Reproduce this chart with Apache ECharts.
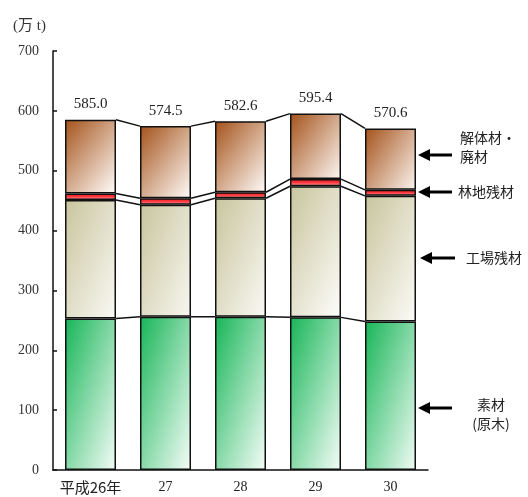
<!DOCTYPE html>
<html>
<head>
<meta charset="utf-8">
<script src="https://cdn.jsdelivr.net/npm/echarts@6/dist/echarts.min.js"></script>
<style>
  html, body { margin: 0; padding: 0; background: #fff; }
  #chart { width: 528px; height: 497px; }
</style>
</head>
<body>
<div id="chart"></div>
<script>
// 木材チップ原材料の内訳（万t）
const years = ['平成26年', '27', '28', '29', '30'];
const sozai = [253, 256, 256, 255, 248];          // 素材（原木）
const kojoZanzai = [198, 187, 198, 219, 210];     // 工場残材
const rinchiZanzai = [11, 11, 10, 12, 10];        // 林地残材
const kaitaiHaizai = [123.0, 120.5, 118.6, 109.4, 102.6]; // 解体材・廃材
const yTicks = [0, 100, 200, 300, 400, 500, 600, 700];

const layers = [sozai, kojoZanzai, rinchiZanzai, kaitaiHaizai];

// 積み上げの境界値（各層の上端）
const boundaries = [];
let running = years.map(() => 0);
layers.forEach(layer => {
  running = running.map((v, i) => v + layer[i]);
  boundaries.push(running.slice());
});
const totals = boundaries[boundaries.length - 1];

const BAR_RATIO = 0.68;
const numFont = "'Liberation Serif', 'DejaVu Serif', serif";
const jpFont = "'Noto Sans CJK JP', sans-serif";

// 左上から右下へ淡くなる斜めグラデーション
function grad(x2, y2, c0, c1) {
  return new echarts.graphic.LinearGradient(0, 0, x2, y2, [
    { offset: 0, color: c0 },
    { offset: 1, color: c1 }
  ]);
}

const edge = { borderColor: '#111', borderWidth: 1.5 };

const barSeries = [
  { name: '素材', data: sozai,
    itemStyle: Object.assign({ color: grad(1.8, 0.2, '#17b557', '#f6fdf9') }, edge) },
  { name: '工場残材', data: kojoZanzai,
    itemStyle: Object.assign({ color: grad(1.7, 0.3, '#c8c59d', '#fbfaf6') }, edge) },
  { name: '林地残材', data: rinchiZanzai,
    itemStyle: Object.assign({ color: new echarts.graphic.LinearGradient(0, 0, 0, 1, [
      { offset: 0, color: '#e8161e' },
      { offset: 0.5, color: '#ff3a40' },
      { offset: 1, color: '#ffb3b3' }
    ]) }, edge) },
  { name: '解体材・廃材', data: kaitaiHaizai,
    itemStyle: Object.assign({ color: grad(1.3, 0.7, '#a4521a', '#fffbf8') }, edge),
    label: {
      show: true, position: 'top', distance: 8,
      fontFamily: numFont, fontSize: 15, color: '#222',
      formatter: p => totals[p.dataIndex].toFixed(1)
    } }
].map(s => Object.assign({
  type: 'bar', stack: 'total', barWidth: (BAR_RATIO * 100) + '%',
  emphasis: { disabled: true }, z: 3
}, s));

// 隣り合う棒の境界を結ぶ線
const connectorSeries = boundaries.map((b, k) => ({
  type: 'custom',
  name: 'conn' + k,
  silent: true,
  z: 2,
  data: b.slice(0, -1).map((v, i) => [i, v, b[i + 1]]),
  renderItem: (params, api) => {
    const i = api.value(0);
    const p1 = api.coord([i, api.value(1)]);
    const p2 = api.coord([i + 1, api.value(2)]);
    const hw = api.size([1, 0])[0] * BAR_RATIO / 2;
    return {
      type: 'line',
      shape: { x1: p1[0] + hw, y1: p1[1], x2: p2[0] - hw, y2: p2[1] },
      style: { stroke: '#111', lineWidth: 1.5 }
    };
  }
}));

// 右側の説明用矢印
function arrow(xTip, y, len) {
  return [
    { type: 'polygon', shape: { points: [[xTip, y], [xTip + 12, y - 6], [xTip + 12, y + 6]] },
      style: { fill: '#000' } },
    { type: 'line', shape: { x1: xTip + 10, y1: y, x2: xTip + len, y2: y },
      style: { stroke: '#000', lineWidth: 3 } }
  ];
}
function label(x, y, text, align) {
  return { type: 'text', x: x, y: y,
    style: { text: text, font: "14px " + jpFont, fill: '#222',
      align: align || 'left', verticalAlign: 'middle', lineHeight: 19 } };
}

const chart = echarts.init(document.getElementById('chart'), null, { renderer: 'canvas' });
chart.setOption({
  animation: false,
  backgroundColor: '#fff',
  grid: { left: 53, right: 100, top: 51, bottom: 27 },
  xAxis: {
    type: 'category', data: years,
    axisLine: { lineStyle: { color: '#111', width: 1.5 } },
    axisTick: { show: false },
    axisLabel: {
      interval: 0,
      margin: 10,
      fontSize: 14, color: '#222',
      fontFamily: numFont,
      formatter: v => v.indexOf('平成') === 0 ? '{jp|' + v + '}' : v,
      rich: { jp: { fontFamily: jpFont, fontSize: 15, color: '#222' } }
    }
  },
  yAxis: {
    type: 'value', min: yTicks[0], max: yTicks[yTicks.length - 1], interval: 100,
    axisLine: { show: true, lineStyle: { color: '#111', width: 1.5 } },
    axisTick: { show: true, inside: true, length: 4, lineStyle: { color: '#111', width: 1.5 } },
    splitLine: { show: false },
    axisLabel: { margin: 14, fontSize: 14, color: '#333', fontFamily: numFont }
  },
  series: barSeries.concat(connectorSeries),
  graphic: [
    { type: 'text', x: 13, y: 26,
      style: { text: '(万 t)', font: "15px " + numFont + ", " + jpFont, fill: '#333',
        verticalAlign: 'middle' } }
  ]
    .concat(arrow(418, 155, 34))
    .concat(arrow(418, 192, 34))
    .concat(arrow(420, 258, 35))
    .concat(arrow(418, 408, 34))
    .concat([
      label(460, 147, '解体材・\n廃材'),
      label(458, 192, '林地残材'),
      label(466, 258, '工場残材'),
      label(491, 414, '素材\n(原木)', 'center')
    ])
});
</script>
</body>
</html>
